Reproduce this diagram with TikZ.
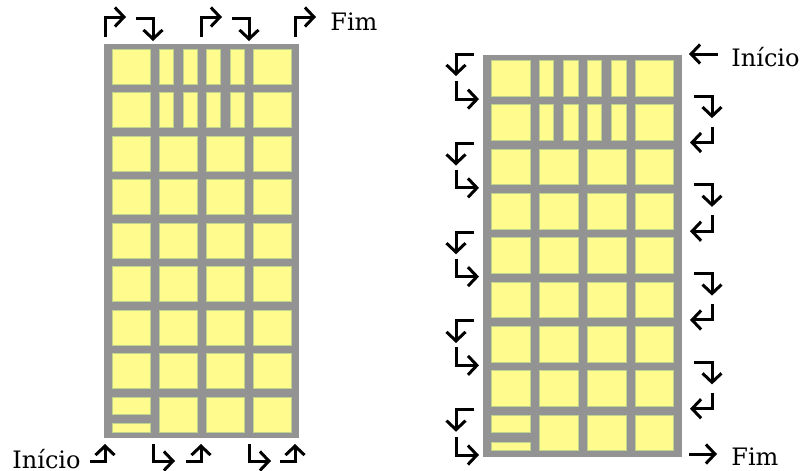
\documentclass[tikz,border=0pt]{standalone}
\usepackage{fontspec}
\setmainfont{DejaVu Serif}
\usetikzlibrary{arrows.meta,positioning}
\definecolor{wallgray}{RGB}{147,147,147}
\definecolor{glass}{RGB}{255,251,140}
\definecolor{glassedge}{RGB}{190,212,140}

\begin{document}
\begin{tikzpicture}[x=0.5pt,y=-0.5pt,
      % define styles
      wall/.style={fill=wallgray},
      pane/.style={fill=glass,draw=glassedge,line width=0.3pt},
      turn/.style={line width=1.5pt,-{Straight Barb[length=4.5pt,width=9.5pt]}},
      caption/.style={font=\fontsize{12}{14}\selectfont,inner sep=0pt,anchor=base west}
  ]
  \useasboundingbox (0,0) rectangle (803,471);
  % the two facades
  \foreach \ox/\oy/\s in {104/44/1, 483/55/1.02}{
    \begin{scope}[shift={(\ox,\oy)},scale=\s]
      \fill[wall] (0,0) rectangle (195,394);
      % top two floors
      \foreach \r in {0,1}{
        \foreach \c in {0,3}
          \draw[pane] ({8+47*\c},{5+43.5*\r}) rectangle +(38,35);
        \foreach \xx in {55,79,102,126}
          \draw[pane] (\xx,{5+43.5*\r}) rectangle +(14,35);
      }
      % middle floors
      \foreach \r in {2,...,7}
        \foreach \c in {0,...,3}
          \draw[pane] ({8+47*\c},{5+43.5*\r}) rectangle +(38,35);
      % ground floor
      \foreach \c in {1,2,3}
        \draw[pane] ({8+47*\c},353) rectangle +(38,35);
      \draw[pane] (8,353) rectangle +(38,17);
      \draw[pane] (8,379.5) rectangle +(38,8.5);
    \end{scope}
  }
  % left facade: column by column
  \foreach \x in {105,201,295}{
    \draw[turn] (\x,37) -- (\x,17) -- (\x+21,17);
    \draw[turn] (\x-15,461) -- (\x,461) -- (\x,444);
  }
  \foreach \x in {153,249}{
    \draw[turn] (\x-17,18) -- (\x,18) -- (\x,41);
    \draw[turn] (\x,444) -- (\x,461) -- (\x+22,461);
  }
  \node[caption] (endL) at (330,31) {Fim};
  \node[caption,anchor=base east] (startL) at (81,468) {Início};
  % right facade: row by row
  \foreach \k in {0,2,4,6,8}{
    \pgfmathsetmacro\g{\k==0 ? 54 : 55+1.02*(44.25+43.5*(\k-1))-1}
    \draw[turn] (474,\g) -- (456,\g) -- (456,\g+22);
  }
  \foreach \k in {1,3,5,7,9}{
    \pgfmathsetmacro\g{\k==9 ? 455 : 55+1.02*(44.25+43.5*(\k-1))-1}
    \draw[turn] (456,\g-18) -- (456,\g) -- (479,\g);
  }
  \foreach \k in {1,3,5,7}{
    \pgfmathsetmacro\g{55+1.02*(44.25+43.5*(\k-1))-4}
    \draw[turn] (694,\g) -- (712,\g) -- (712,\g+22);
  }
  \foreach \k in {2,4,6,8}{
    \pgfmathsetmacro\g{55+1.02*(44.25+43.5*(\k-1))-2}
    \draw[turn] (712,\g-16) -- (712,\g) -- (690,\g);
  }
  \draw[turn] (718,54) -- (689,54);
  \draw[turn] (689,454) -- (717,454);
  \node[caption] (startR) at (731,66) {Início};
  \node[caption] (endR) at (731,465) {Fim};
\end{tikzpicture}
\end{document}
